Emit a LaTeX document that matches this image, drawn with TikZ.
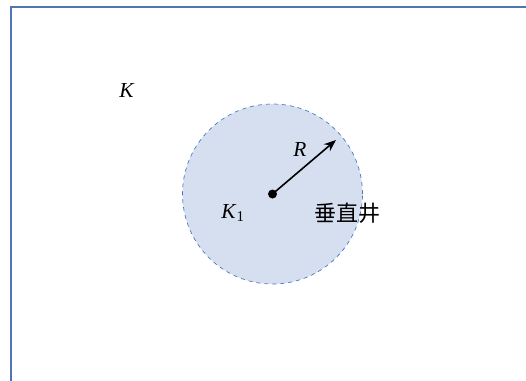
\documentclass[tikz,border=0pt]{standalone}
\usepackage{fontspec}
\setmainfont{Liberation Serif}
\newfontfamily\cjk{Noto Sans CJK SC}
\usepackage{tikz}
\usetikzlibrary{arrows.meta, positioning, calc}
\definecolor{framecol}{RGB}{79,117,180}
\definecolor{wellfill}{RGB}{214,223,240}
\definecolor{wellline}{RGB}{68,114,196}

\begin{document}
\begin{tikzpicture}[x=0.75pt, y=-0.75pt, every node/.style={font=\fontsize{16}{18}\selectfont}]
    % page size
    \useasboundingbox (0, 0) rectangle (526, 380);

    % outer frame (only left and top edges visible)
    \draw[framecol, line width=1pt] (11, 390) -- (11, 7) -- (540, 7);

    % region K
    \node (outer) at (127, 91) {\textit{K}};

    % well circle
    \node[circle, draw=wellline, fill=wellfill, dashed, line width=0.5pt,
          minimum size=180*0.75pt, inner sep=0pt] (well) at (272.5, 194) {};
    \fill (well.center) circle (4.5*0.75pt);
    \coordinate (tip) at (336, 140);
    \draw[-{Stealth[length=9pt, width=7pt]}, line width=1.2pt] (well.center) -- (tip);

    % labels
    \node (radius) at (300, 150) {\textit{R}};
    \node (inner) at (233, 213) {\textit{K}\textsubscript{1}};
    \node (name) at (347, 213) {\cjk\fontsize{16.5}{18}\selectfont 垂直井};
\end{tikzpicture}
\end{document}
